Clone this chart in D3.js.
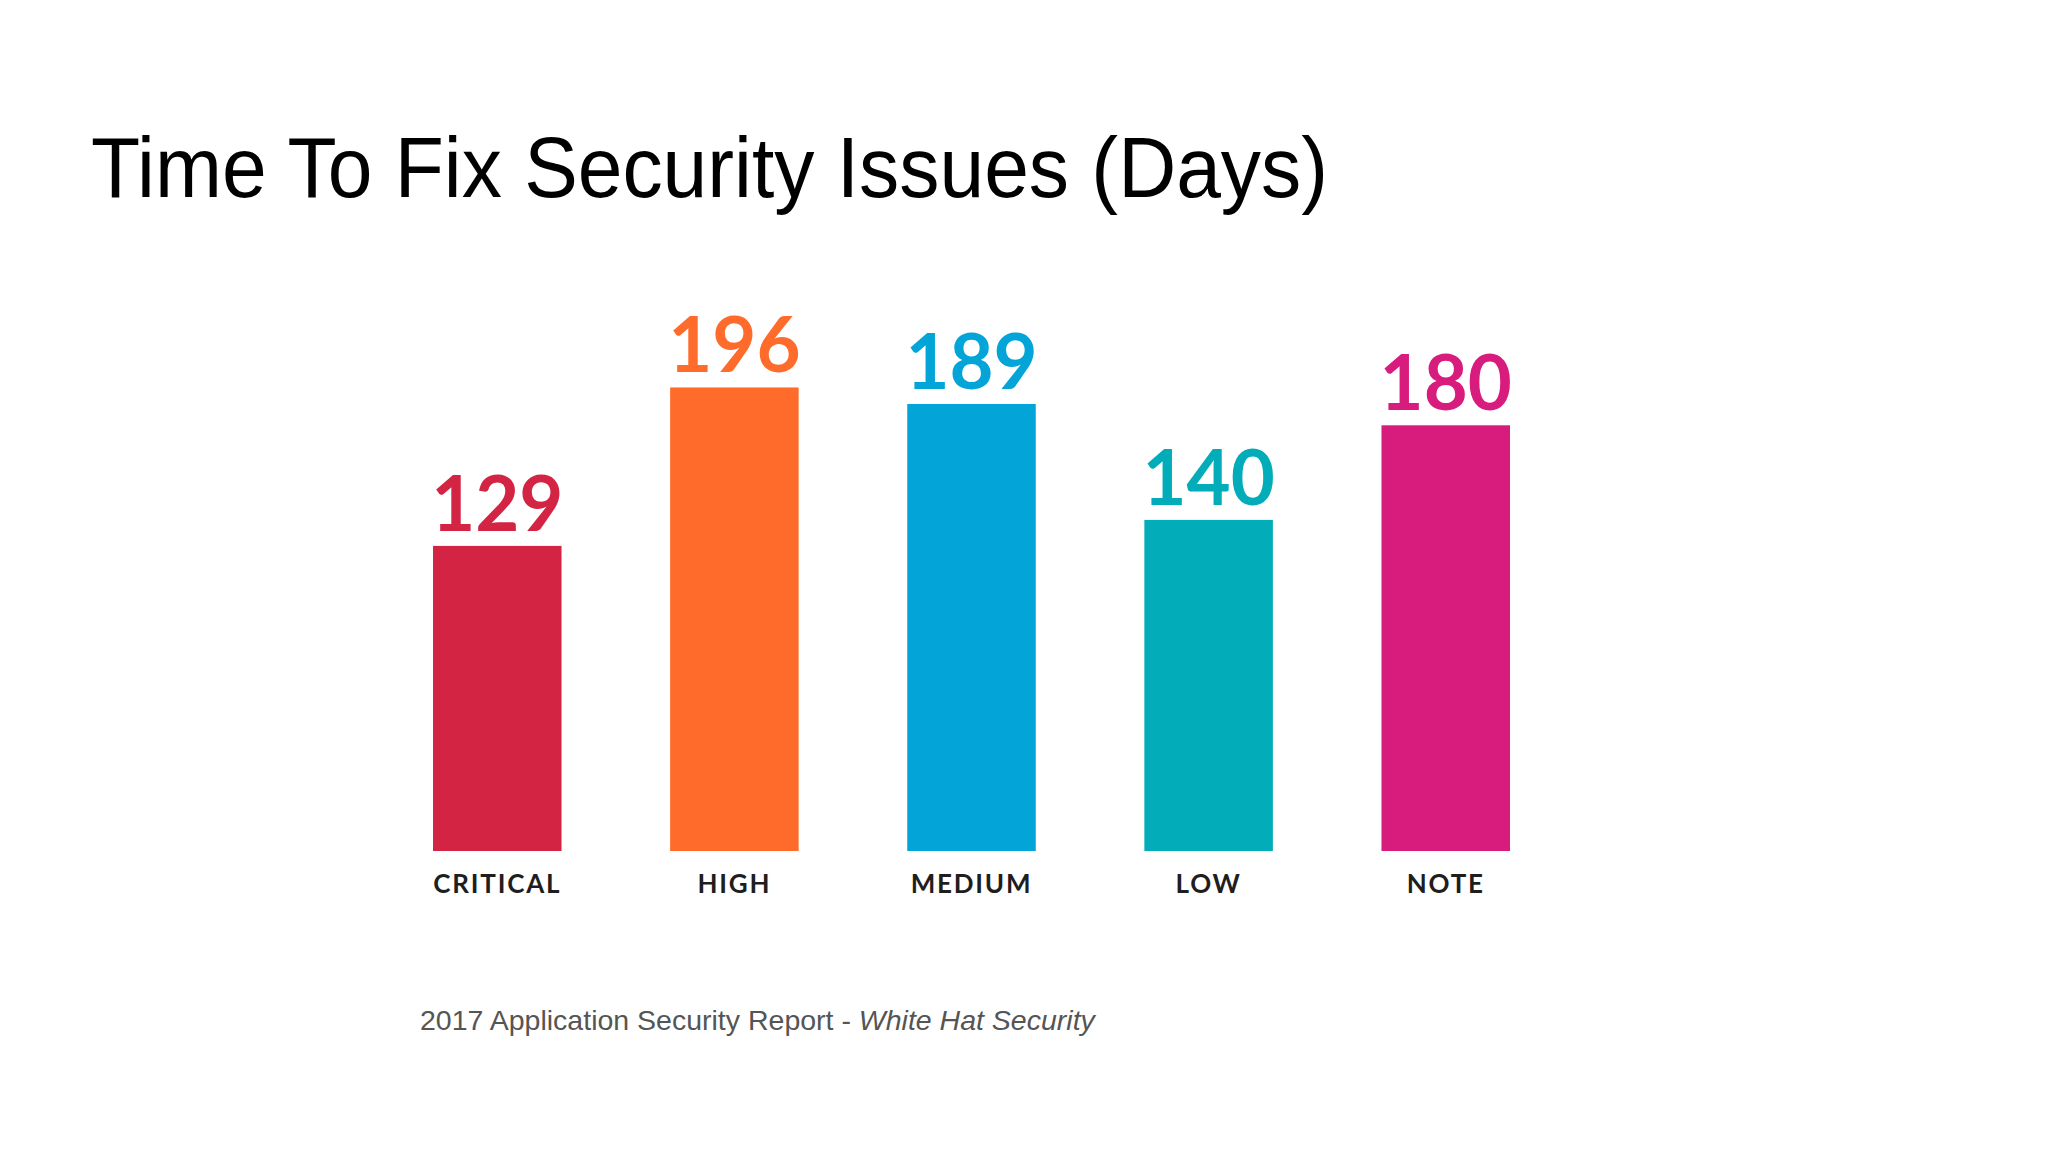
<!DOCTYPE html>
<html><head><meta charset="utf-8">
<script src="https://cdn.jsdelivr.net/npm/d3@7"></script>
<style>html,body{margin:0;padding:0;background:#fff;}</style>
</head><body>
<script>
const categories = ["CRITICAL", "HIGH", "MEDIUM", "LOW", "NOTE"];
const values = [129, 196, 189, 140, 180];
const colors = ["#d42443", "#ff6b2b", "#03a5d9", "#02adb9", "#d81c7e"];
const titleText = "Time To Fix Security Issues (Days)";
const sourceText = "2017 Application Security Report - ";
const sourceItalic = "White Hat Security";

const W = 2048, H = 1152;
const svg = d3.select("body").append("svg").attr("width", W).attr("height", H);

svg.append("text").attr("x", 91).attr("y", 197)
  .attr("font-family", "Liberation Sans, Arial, sans-serif").attr("font-size", 86)
  .attr("textLength", 1237).attr("lengthAdjust", "spacingAndGlyphs")
  .attr("fill", "#000").text(titleText);

const x = d3.scaleBand().domain(categories).range([433, 1510]).paddingInner(0.458).paddingOuter(0);
const y = d3.scaleLinear().domain([0, 200]).range([851, 378]);

const g = svg.append("g");
g.selectAll("rect.bar").data(values).join("rect").attr("class", "bar")
  .attr("x", (d, i) => x(categories[i]))
  .attr("width", x.bandwidth())
  .attr("y", d => y(d))
  .attr("height", d => y(0) - y(d))
  .attr("fill", (d, i) => colors[i]);

g.selectAll("text.val").data(values).join("text").attr("class", "val")
  .attr("x", (d, i) => x(categories[i]) + x.bandwidth() / 2)
  .attr("y", d => y(d) - 15)
  .attr("text-anchor", "middle")
  .attr("font-family", "Lato, sans-serif").attr("font-weight", 700)
  .attr("font-size", 76).attr("letter-spacing", 0)
  .attr("fill", (d, i) => colors[i]).text(d => d);

const xAxis = d3.axisBottom(x).tickSize(0).tickPadding(0);
const ax = svg.append("g").attr("transform", `translate(0,${893})`).call(xAxis);
ax.select(".domain").remove();
ax.selectAll("text").attr("dy", 0)
  .attr("font-family", "Lato, sans-serif").attr("font-weight", 700)
  .attr("font-size", 26).attr("letter-spacing", 1.8).attr("fill", "#1e1e1e");

const src = svg.append("text").attr("x", 420).attr("y", 1030)
  .attr("font-family", "Liberation Sans, Arial, sans-serif").attr("font-size", 28.5)
  .attr("fill", "#555");
src.append("tspan").text(sourceText);
src.append("tspan").attr("font-style", "italic").text(sourceItalic);
</script>
</body></html>
